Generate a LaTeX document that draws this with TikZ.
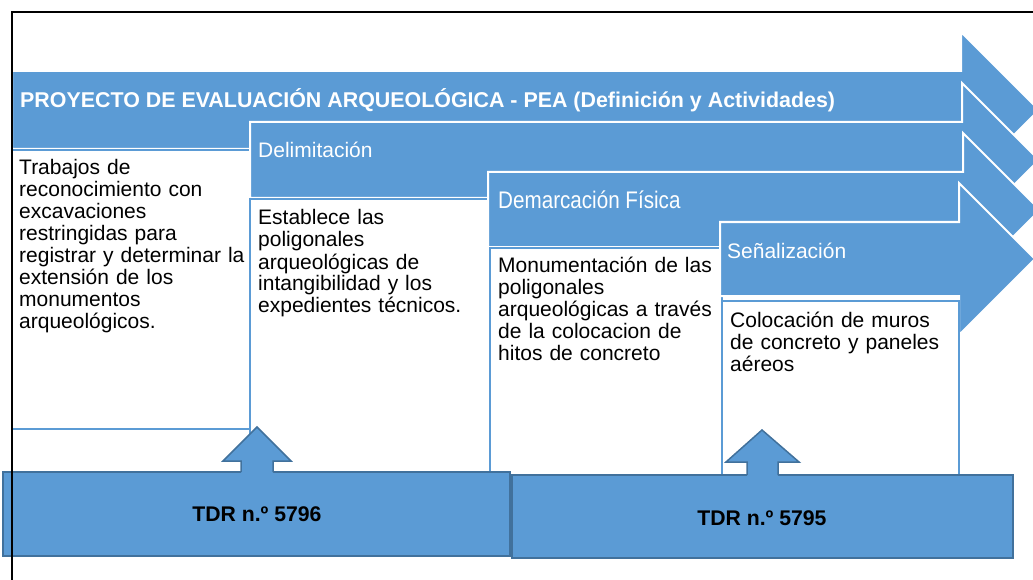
\documentclass[tikz,border=0pt]{standalone}
\usepackage{fontspec}
\setmainfont{Liberation Sans}
\definecolor{bl}{HTML}{5B9BD5}
\definecolor{bd}{HTML}{41719C}
\begin{document}
\begin{tikzpicture}[x=1pt,y=-1pt,
 arr/.style={fill=bl,draw=white,line width=2pt,line join=miter},
 tbox/.style={draw=bl,fill=white,line width=2pt},
 body/.style={anchor=base west,inner sep=0pt,align=left,font=\fontsize{21}{22}\selectfont,text width=240pt},
 headtxt/.style={anchor=base west,inner sep=0pt,text=white,font=\fontsize{21}{22}\selectfont},
 tdr/.style={fill=bl,draw=bd,line width=1.5pt},
 uparr/.style={fill=bl},
 uparrline/.style={draw=bd,line width=1.5pt,line join=miter},
 tdrtext/.style={font=\bfseries\fontsize{21.2}{24}\selectfont,inner sep=0pt}]
\useasboundingbox (0,0) rectangle (1033,580);
% arrow 1
\path[arr] (12,71) -- (961,71) -- (961,32) -- (1039,110) -- (961,188) -- (961,149) -- (12,149) -- cycle;
\node[headtxt,font=\bfseries\fontsize{21.4}{22}\selectfont] (t1) at (20,108) {PROYECTO DE EVALUACIÓN ARQUEOLÓGICA - PEA (Definición y Actividades)};
\path[tbox] (12,150) rectangle (250,429);
\node[body] (b1) at (19,175) {Trabajos de\\reconocimiento con\\excavaciones\\restringidas para\\registrar y determinar la\\extensión de los\\monumentos\\arqueológicos.};
% arrow 2
\path[arr] (250,122) -- (962,122) -- (962,83) -- (1039,160) -- (962,237) -- (962,198) -- (250,198) -- cycle;
\node[headtxt] (t2) at (258,158) {Delimitación};
\path[tbox] (250,199) rectangle (490,474);
\node[body] (b2) at (258,225) {Establece las\\poligonales\\arqueológicas de\\intangibilidad y los\\expedientes técnicos.};
% arrow 3
\path[arr] (488,172) -- (963,172) -- (963,133) -- (1040,210) -- (963,287) -- (963,247) -- (488,247) -- cycle;
\node[headtxt] (t3) at (498,209) {\fontsize{24}{26}\selectfont\scalebox{0.86}[1]{Demarcación Física}};
\path[tbox] (490,248) rectangle (722,476);
\node[body] (b3) at (498,272) {Monumentación de las\\poligonales\\arqueológicas a través\\de la colocacion de\\hitos de concreto};
% arrow 4
\path[arr] (720,222) -- (959,222) -- (959,183) -- (1035,259) -- (959,335) -- (959,296) -- (720,296) -- cycle;
\node[headtxt] (t4) at (727,258) {Señalización};
\path[tbox] (722,301) rectangle (959,476);
\node[body] (b4) at (730,327) {Colocación de muros\\de concreto y paneles\\aéreos};
% TDR boxes
\path[tdr] (3,472) rectangle (510,556);
\coordinate (tdr1e) at (510,515);
\path[tdr] (512,475) rectangle (1013,558);
\coordinate (tdr2w) at (512,515);
\draw[bd,line width=1.2pt] (tdr1e) -- (tdr2w);
\node[tdrtext] (n1) at (257,514) {TDR n.º 5796};
\node[tdrtext] (n2) at (762,518) {TDR n.º 5795};
% up arrows
\fill[uparr] (241,475) -- (241,461) -- (223,461) -- (257,427) -- (291,461) -- (273,461) -- (273,475) -- cycle;
\draw[uparrline] (241,472) -- (241,461) -- (223,461) -- (257,427) -- (291,461) -- (273,461) -- (273,472);
\fill[uparr] (747,478) -- (747,462) -- (726,462) -- (762,430) -- (799,462) -- (778,462) -- (778,478) -- cycle;
\draw[uparrline] (747,475) -- (747,462) -- (726,462) -- (762,430) -- (799,462) -- (778,462) -- (778,475);
% frame
\draw[black,line width=2.6pt] (12,581) -- (12,12) -- (1034,12);
\end{tikzpicture}
\end{document}
